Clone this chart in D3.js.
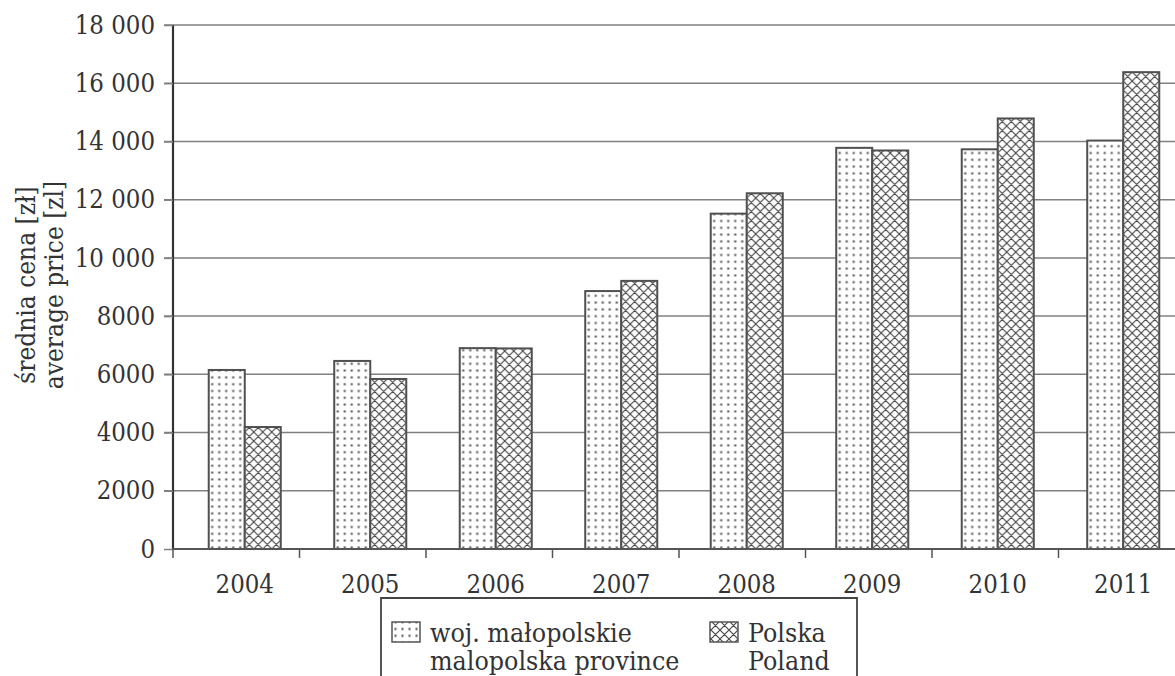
<!DOCTYPE html>
<html>
<head>
<meta charset="utf-8">
<script src="https://cdn.jsdelivr.net/npm/d3@7"></script>
<style>
  html, body { margin: 0; padding: 0; background: #fff; }
  svg { display: block; }
  text { font-family: "DejaVu Serif Condensed", "DejaVu Serif", serif; font-stretch: condensed; fill: #333; }
</style>
</head>
<body>
<svg id="chart" width="1175" height="676"></svg>
<script>
// ---- data ----
const years = ["2004", "2005", "2006", "2007", "2008", "2009", "2010", "2011"];
const malopolska = [6150, 6460, 6900, 8860, 11520, 13780, 13730, 14030];
const polska = [4190, 5840, 6890, 9210, 12220, 13690, 14790, 16380];
const yTicks = [0, 2000, 4000, 6000, 8000, 10000, 12000, 14000, 16000, 18000];
const seriesNames = ["malopolska", "polska"];
const legendLabels = [
  ["woj. małopolskie", "malopolska province"],
  ["Polska", "Poland"]
];
const yTitle = ["średnia cena [zł]", "average price [zl]"];

// ---- layout ----
const W = 1175, H = 676;
const axisX = 173, plotRight = 1185, plotTop = 25, plotBottom = 549;
const svg = d3.select("#chart");

const defs = svg.append("defs");
const dots = defs.append("pattern").attr("id", "dots")
  .attr("patternUnits", "userSpaceOnUse").attr("width", 7).attr("height", 6.8);
dots.append("rect").attr("width", 7).attr("height", 6.8).attr("fill", "#fff");
dots.append("rect").attr("x", 2.5).attr("y", 2.4).attr("width", 2).attr("height", 2).attr("fill", "#4a4a4a");
const cross = defs.append("pattern").attr("id", "cross")
  .attr("patternUnits", "userSpaceOnUse").attr("width", 9).attr("height", 9);
cross.append("rect").attr("width", 9).attr("height", 9).attr("fill", "#fff");
cross.append("path").attr("d", "M0,0L9,9M9,0L0,9M-1,8L1,10M8,-1L10,1M-1,1L1,-1M8,10L10,8")
  .attr("stroke", "#444").attr("stroke-width", 1.1).attr("fill", "none");
const fills = { malopolska: "url(#dots)", polska: "url(#cross)" };

const y = d3.scaleLinear().domain([0, 18000]).range([plotBottom, plotTop]);
const x0 = d3.scaleBand().domain(years).range([182, 1186]).paddingInner(0.426).paddingOuter(0.213);
const x1 = d3.scaleBand().domain(seriesNames).range([0, x0.bandwidth()]);
const xb = d3.scaleLinear().domain([0, years.length]).range([axisX, plotRight]);

const fmt = d => d >= 10000 ? d3.format(",")(d).replace(",", " ") : String(d);

// gridlines
svg.append("g").selectAll("line").data(yTicks.filter(d => d > 0)).join("line")
  .attr("x1", axisX - 9).attr("x2", W).attr("y1", d => y(d)).attr("y2", d => y(d))
  .attr("stroke", "#808080").attr("stroke-width", 1.5);

// bars
const rows = years.map((yr, i) => ({ year: yr, malopolska: malopolska[i], polska: polska[i] }));
svg.append("g").selectAll("g").data(rows).join("g")
  .attr("transform", d => `translate(${x0(d.year)},0)`)
  .selectAll("rect").data(d => seriesNames.map(k => ({ key: k, value: d[k] }))).join("rect")
  .attr("x", d => x1(d.key)).attr("width", x1.bandwidth())
  .attr("y", d => y(d.value)).attr("height", d => y(0) - y(d.value))
  .attr("fill", d => fills[d.key]).attr("stroke", "#505050").attr("stroke-width", 2);

// y axis
const yAxis = svg.append("g").attr("transform", `translate(${axisX},0)`)
  .call(d3.axisLeft(y).tickValues(yTicks).tickFormat(fmt).tickSize(9).tickPadding(9));
yAxis.select(".domain").attr("stroke", "#333").attr("stroke-width", 2.2).attr("d", `M0,${plotTop}V${plotBottom}`);
yAxis.selectAll(".tick line").attr("stroke", "#808080").attr("stroke-width", 1.5);
yAxis.selectAll(".tick text").attr("font-family", null).style("font-size", "25.5px").attr("fill", "#333");

// x axis
svg.append("line").attr("x1", axisX).attr("x2", W).attr("y1", plotBottom).attr("y2", plotBottom)
  .attr("stroke", "#555").attr("stroke-width", 2);
svg.append("g").selectAll("line").data(d3.range(0, years.length + 1)).join("line")
  .attr("x1", d => xb(d)).attr("x2", d => xb(d)).attr("y1", plotBottom).attr("y2", plotBottom + 9)
  .attr("stroke", "#555").attr("stroke-width", 1.5);
svg.append("g").selectAll("text").data(years).join("text")
  .attr("x", d => x0(d) + x0.bandwidth() / 2).attr("y", 593)
  .attr("text-anchor", "middle").style("font-size", "25.5px").text(d => d);

// y title
const yt = svg.append("text").attr("transform", "translate(0,285) rotate(-90)")
  .attr("text-anchor", "middle").style("font-size", "26px");
yt.append("tspan").attr("x", 0).attr("y", 35).text(yTitle[0]);
yt.append("tspan").attr("x", 0).attr("y", 63).text(yTitle[1]);

// legend
const lg = svg.append("g");
lg.append("path").attr("d", "M381,680V598H857V680").attr("fill", "none")
  .attr("stroke", "#444").attr("stroke-width", 1.8);
const legendX = [392, 710];
seriesNames.forEach((k, i) => {
  lg.append("rect").attr("x", legendX[i]).attr("y", 622).attr("width", 28).attr("height", 20)
    .attr("fill", fills[k]).attr("stroke", "#555").attr("stroke-width", 1.5);
  const t = lg.append("text").style("font-size", "26.5px");
  t.append("tspan").attr("x", legendX[i] + 38).attr("y", 642).text(legendLabels[i][0]);
  t.append("tspan").attr("x", legendX[i] + 38).attr("y", 670).text(legendLabels[i][1]);
});
</script>
</body>
</html>
